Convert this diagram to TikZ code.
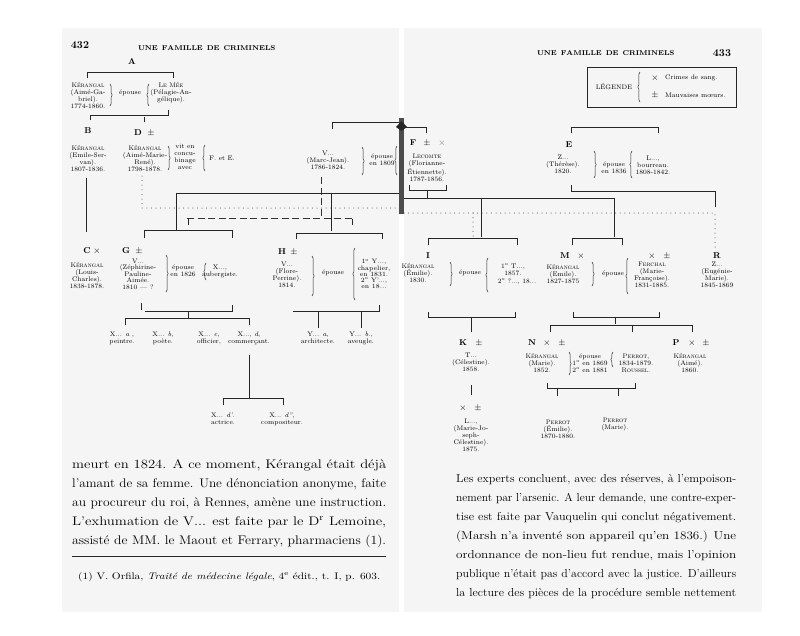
\documentclass[tikz,border=0pt]{standalone}
\usepackage{graphicx}
\usetikzlibrary{decorations.pathreplacing}
\newcommand\bline[2]{\resizebox{#1}{\height}{#2}}
\newcommand\hdrtext{U\hfil N\hfil E\hfil\hskip 4pt\hfil F\hfil A\hfil M\hfil I\hfil L\hfil L\hfil E\hfil\hskip 4pt\hfil D\hfil E\hfil\hskip 4pt\hfil C\hfil R\hfil I\hfil M\hfil I\hfil N\hfil E\hfil L\hfil S}
\tikzset{
  ln/.style={line width=0.6pt, black!85},
  dt/.style={line width=1pt, black!80, dash pattern=on 0pt off 4.6pt, line cap=round},
  ds/.style={line width=0.6pt, black!80, dash pattern=on 7pt off 3.5pt},
  tx/.style={align=center, inner sep=0pt, font=\fontsize{6.6}{7}\selectfont},
  lb/.style={inner sep=0pt, font=\bfseries\fontsize{8.5}{9}\selectfont},
  sy/.style={inner sep=0pt, font=\fontsize{9}{9}\selectfont},
  brc/.style={decorate, decoration={brace, amplitude=2.2pt}, line width=0.5pt, black!85},
  bodyL/.style={inner sep=0pt, anchor=west, font=\fontsize{12.5}{13}\selectfont},
  bodyR/.style={inner sep=0pt, anchor=west, font=\fontsize{11.5}{12}\selectfont},
}
\begin{document}
\begin{tikzpicture}[x=1pt,y=-1pt]
\useasboundingbox (0,0) rectangle (800,635);
\fill[black!4] (62,28) rectangle (399,612);
\fill[black!4] (404,28) rectangle (762,612);

% headers
\node[inner sep=0pt, font=\bfseries\fontsize{10.5}{11}\selectfont] (p432) at (80,45) {432};
\node[inner sep=0pt, font=\bfseries\fontsize{7}{8}\selectfont] (tl) at (203,48) {\makebox[130pt][s]{\hdrtext}};
\node[inner sep=0pt, font=\bfseries\fontsize{7}{8}\selectfont] (tr) at (601,53) {\makebox[128pt][s]{\hdrtext}};
\node[inner sep=0pt, font=\bfseries\fontsize{10.5}{11}\selectfont] (p433) at (722,53) {433};

% legend
\draw[line width=0.7pt, black!85] (587,67) rectangle (736,107);
\node[inner sep=0pt, font=\fontsize{6.5}{7}\selectfont] (leg) at (614,87) {LÉGENDE};
\draw[brc] (640,102) -- (640,72);
\node[sy] (lx) at (655,78) {$\times$};
\node[inner sep=0pt, anchor=west, font=\fontsize{6.6}{7}\selectfont] (lcs) at (665,78) {Crimes de sang.};
\node[sy] (lp) at (655,95) {$\pm$};
\node[inner sep=0pt, anchor=west, font=\fontsize{6.6}{7}\selectfont] (lmm) at (665,95) {Mauvaises mœurs.};

% A
\node[lb] (A) at (132,62) {A};
\draw[ln] (87,78) -- (87,72) -- (173,72) -- (173,78);
\node[tx] (ka) at (88,95) {\textsc{Kérangal}\\(Aimé-Ga-\\briel).\\1774-1860.};
\draw[brc] (110,84) -- (110,106);
\node[tx] (ea) at (130,93) {épouse};
\draw[brc] (149,106) -- (149,84);
\node[tx] (lm) at (171,93) {\textsc{Le Mée}\\(Pélagie-An-\\gélique).};
\draw[ln] (90,120) -- (90,115) -- (168,115) -- (168,110);
\draw[ln] (144,117) -- (144,122);

% B
\node[lb] (B) at (88,131) {B};
\node[tx] (kb) at (88,158) {\textsc{Kérangal}\\(Emile-Ser-\\van).\\1807-1836.};
\draw[ln] (86,178) -- (86,232);

% D
\node[lb] (D) at (138,133) {D};
\node[sy] (Ds) at (151,133) {$\pm$};
\node[tx] (kd) at (145,158) {\textsc{Kérangal}\\(Aimé-Marie-\\René).\\1798-1878.};
\draw[brc] (168,146) -- (168,170);
\node[tx] (vc) at (185,157) {vit en\\concu-\\binage\\avec};
\draw[brc] (205,171) -- (205,145);
\node[tx] (fe) at (222,158) {F. et E.};
\draw[dt] (142,176) -- (142,208) -- (397,208);

% V (Marc-Jean)
\draw[ln] (332,129) -- (332,122) -- (399,122);
\node[tx] (vm) at (328,160) {V...\\(Marc-Jean).\\1786-1824.};
\draw[brc] (362,147) -- (362,175);
\node[tx] (e9) at (382,160) {épouse\\en 1809};
\draw[brc] (397,175) -- (397,146);
\draw[ds] (321,177) -- (321,216);

% F
\draw[ln] (404,127) -- (426,127) -- (426,133);
\node[lb] (F) at (413,143) {F};
\node[sy] (Fs1) at (427,143) {$\pm$};
\node[sy, black!55] (Fs2) at (442,143) {$\times$};
\node[tx] (lc) at (427,168) {\textsc{Lecomte}\\(Florianne-\\Étiennette).\\1787-1856.};
\draw[ln] (409,185) -- (409,190) -- (446,190) -- (446,185);
\draw[ln] (427,190) -- (427,198);

% children lines of V x F
\draw[ln] (176,230) -- (176,193) -- (399,193);
\draw[ln] (331,193) -- (331,231);
\draw[ln] (404,198) -- (614,198) -- (614,237);
\draw[ln] (481,198) -- (481,237);
\draw[dt] (404,213) -- (715,213) -- (715,247);
\draw[dt] (473,213) -- (473,236);

% E
\draw[ln] (571,133) -- (571,127) -- (658,127) -- (658,133);
\node[lb] (E) at (569,145) {E};
\node[tx] (zt) at (563,164) {Z...\\(Thérèse).\\1820.};
\draw[brc] (594,151) -- (594,178);
\node[tx] (e6) at (614,168) {épouse\\en 1836};
\draw[brc] (632,178) -- (632,151);
\node[tx] (lbr) at (653,165) {L...,\\bourreau.\\1808-1842.};
\draw[ln] (571,185) -- (571,191) -- (715,191) -- (715,207);

% dashed
\draw[ds] (187,218) -- (353,218);
\draw[ln] (188,219) -- (188,225);
\draw[ln] (352,219) -- (352,225);

% spine
\fill[black!70] (399,118) rectangle (404,214);
\fill[black!85] (396,127) -- (401.5,121) -- (407,127) -- (401.5,131) -- cycle;

% C
\node[lb] (C) at (87,251) {C};
\node[sy] (Cs) at (97,251) {$\times$};
\node[tx] (kc) at (87,275) {\textsc{Kérangal}\\(Louis-\\Charles).\\1838-1878.};

% G
\draw[ln] (144,238) -- (144,230) -- (232,230) -- (232,238);
\node[lb] (G) at (126,251) {G};
\node[sy] (Gs) at (139,251) {$\pm$};
\node[tx, font=\fontsize{6.6}{6.2}\selectfont] (vz) at (138,274) {V...\\(Zéphirine-\\Pauline-\\Aimée.\\1810 — ?};
\draw[brc] (166,255) -- (166,292);
\node[tx] (e26) at (183,271) {épouse\\en 1826};
\draw[brc] (206,280) -- (206,263);
\node[tx] (xa) at (220,271) {X...,\\aubergiste.};
\draw[ln] (141,303) -- (141,310);
\draw[ln] (145,311) -- (232,311) -- (232,305);
\draw[ln] (188,311) -- (188,318);
\draw[ln] (125,325) -- (125,318) -- (249,318) -- (249,325);
\node[tx] (ga) at (122,338) {X... \textit{a} ,\\peintre.};
\node[tx] (gb) at (163,338) {X... \textit{b},\\poète.};
\node[tx] (gc) at (209,338) {X... \textit{c},\\officier,};
\node[tx] (gd) at (249,338) {X..., \textit{d},\\commerçant.};
\draw[ln] (249,355) -- (249,398);
\draw[ln] (223,405) -- (223,398) -- (283,398) -- (283,405);
\node[tx] (gd1) at (223,419) {X... \textit{d'}.\\actrice.};
\node[tx] (gd2) at (282,419) {X... \textit{d''},\\compositeur.};

% H
\draw[ln] (296,239) -- (296,233) -- (382,233) -- (382,239);
\node[lb] (H) at (282,252) {H};
\node[sy] (Hs) at (294,252) {$\pm$};
\node[tx] (vf) at (287,275) {V...\\(Flore-\\Perrine).\\1814.};
\draw[brc] (312,256) -- (312,296);
\node[tx] (eh) at (333,273) {épouse};
\draw[brc] (355,300) -- (355,248);
\node[tx, font=\fontsize{6.4}{6.2}\selectfont] (hy) at (374,274) {1\textsuperscript{o} Y...,\\chapelier,\\en 1831.\\2\textsuperscript{o} Y'...,\\en 18...};
\draw[ln] (379,305) -- (379,311);
\draw[ln] (293,311) -- (380,311);
\draw[ln] (318,311) -- (318,328);
\draw[ln] (361,311) -- (361,328);
\node[tx] (ha) at (318,338) {Y... \textit{a},\\architecte.};
\node[tx] (hb) at (361,338) {Y... \textit{b}.,\\aveugle.};

% I
\draw[ln] (428,245) -- (428,238) -- (517,238) -- (517,245);
\node[lb] (I) at (428,256) {I};
\node[tx] (ki) at (418,273) {\textsc{Kérangal}\\(Émilie).\\1830.};
\draw[brc] (450,262) -- (450,286);
\node[tx] (ei) at (470,273) {épouse};
\draw[brc] (488,292) -- (488,258);
\node[tx] (it1) at (513,270) {1\textsuperscript{o} T...,\\1857.};
\node[tx] (it2) at (517,282) {2\textsuperscript{o} ?..., 18...};
\draw[ln] (428,312) -- (428,317) -- (515,317) -- (515,312);
\draw[ln] (471,317) -- (471,332);

% K
\node[lb] (K) at (463,343) {K};
\node[sy] (Ks) at (479,343) {$\pm$};
\node[tx] (tc) at (471,362) {T...\\(Célestine).\\1858.};
\draw[line width=1pt, black!85] (471,385) -- (471,395);
\node[sy] (Ls1) at (463,408) {$\times$};
\node[sy] (Ls2) at (478,408) {$\pm$};
\node[tx] (lmj) at (471,435) {L...,\\(Marie-Jo-\\seph-\\Célestine).\\1875.};

% M
\draw[ln] (572,245) -- (572,238) -- (622,238) -- (622,245);
\node[lb] (M) at (565,256) {M};
\node[sy] (Ms) at (581,256) {$\times$};
\node[sy] (FMs1) at (652,256) {$\times$};
\node[sy] (FMs2) at (667,256) {$\pm$};
\node[lb] (R) at (717,256) {R};
\node[tx] (km) at (563,274) {\textsc{Kérangal}\\(Emile).\\1827-1875};
\draw[brc] (592,262) -- (592,286);
\node[tx] (em) at (613,274) {épouse};
\draw[brc] (628,294) -- (628,258);
\node[tx] (fer) at (652,275) {\textsc{Ferchal}\\(Marie-\\Françoise).\\1831-1885.};
\node[tx] (ze) at (717,275) {Z...\\(Eugénie-\\Marie).\\1845-1869};
\draw[ln] (573,312) -- (573,317) -- (659,317) -- (659,312);
\draw[ln] (615,317) -- (615,324);
\draw[ln] (550,332) -- (550,325) -- (692,325) -- (692,332);
\draw[ln] (632,325) -- (632,332);

% N
\node[lb] (N) at (532,343) {N};
\node[sy] (Ns1) at (547,343) {$\times$};
\node[sy] (Ns2) at (562,343) {$\pm$};
\node[tx] (kn) at (542,363) {\textsc{Kérangal}\\(Marie).\\1852.};
\draw[brc] (569,352) -- (569,375);
\node[tx] (en) at (590,363) {épouse\\1\textsuperscript{o} en 1869\\2\textsuperscript{o} en 1881};
\draw[brc] (613,367) -- (613,352);
\node[tx] (pr) at (636,363) {\textsc{Perrot},\\1834-1879.\\\textsc{Roussel}.};
\draw[ln] (547,383) -- (547,388) -- (635,388) -- (635,383);
\draw[ln] (557,388) -- (557,396);
\draw[ln] (618,388) -- (618,396);
\node[tx] (pe) at (558,429) {\textsc{Perrot}\\(Émilie).\\1870-1880.};
\node[tx] (pm) at (615,425) {\textsc{Perrot}\\(Marie).};

% P
\node[lb] (P) at (676,343) {P};
\node[sy] (Ps1) at (692,343) {$\times$};
\node[sy] (Ps2) at (706,343) {$\pm$};
\node[tx] (kp) at (690,363) {\textsc{Kérangal}\\(Aimé).\\1860.};

% body text left
\node[bodyL] (t1) at (72,465) {\bline{314pt}{meurt en 1824. A ce moment, Kérangal était déjà}};
\node[bodyL] (t2) at (72,484) {\bline{314pt}{l'amant de sa femme. Une dénonciation anonyme, faite}};
\node[bodyL] (t3) at (72,503) {\bline{314pt}{au procureur du roi, à Rennes, amène une instruction.}};
\node[bodyL] (t4) at (72,522) {\bline{314pt}{L'exhumation de V... est faite par le D\textsuperscript{r} Lemoine,}};
\node[bodyL] (t5) at (72,541) {\bline{314pt}{assisté de MM. le Maout et Ferrary, pharmaciens (1).}};
\draw[line width=0.9pt, black!85] (72,556) -- (386,556);
\node[inner sep=0pt, anchor=west, font=\fontsize{9.5}{10}\selectfont] (fn) at (78,577) {\bline{302pt}{(1) V. Orfila, \textit{Traité de médecine légale}, 4\textsuperscript{e} édit., t. I, p. 603.}};

% body text right
\node[bodyR] (r1) at (456,480) {\bline{280pt}{Les experts concluent, avec des réserves, à l'empoison-}};
\node[bodyR] (r2) at (456,499) {\bline{280pt}{nement par l'arsenic. A leur demande, une contre-exper-}};
\node[bodyR] (r3) at (456,518) {\bline{280pt}{tise est faite par Vauquelin qui conclut négativement.}};
\node[bodyR] (r4) at (456,537) {\bline{280pt}{(Marsh n'a inventé son appareil qu'en 1836.) Une}};
\node[bodyR] (r5) at (456,556) {\bline{280pt}{ordonnance de non-lieu fut rendue, mais l'opinion}};
\node[bodyR] (r6) at (456,575) {\bline{280pt}{publique n'était pas d'accord avec la justice. D'ailleurs}};
\node[bodyR] (r7) at (456,594) {\bline{280pt}{la lecture des pièces de la procédure semble nettement}};
\end{tikzpicture}
\end{document}
